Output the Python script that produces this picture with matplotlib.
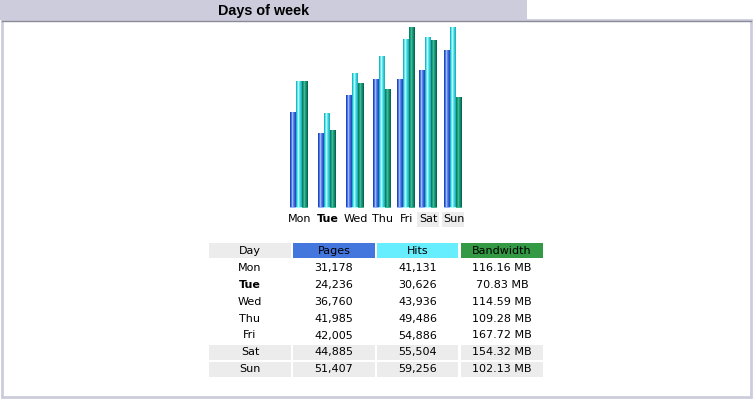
import numpy as np
import matplotlib
matplotlib.use("Agg")
import matplotlib.pyplot as plt
from matplotlib.patches import Rectangle

days = ["Mon", "Tue", "Wed", "Thu", "Fri", "Sat", "Sun"]
pages = [31178, 24236, 36760, 41985, 42005, 44885, 51407]
hits = [41131, 30626, 43936, 49486, 54886, 55504, 59256]
bandwidth_mb = [116.16, 70.83, 114.59, 109.28, 167.72, 154.32, 102.13]
today = "Tue"
weekend = ["Sat", "Sun"]

# layout (pixels)
W, H = 753, 399
col_centers = np.array([299, 327, 355, 382, 406, 428, 453])
bar_w = 6
base_y = 207.5
bar_h = 180.5

grad_p = ["#2447b8", "#4c78e6", "#9ab8ff", "#5b86ee", "#3a62d6", "#2a4cbf"]
grad_h = ["#1fb7c4", "#5fe6ee", "#b4ffff", "#63e8ef", "#36cbd5", "#22b3bf"]
grad_k = ["#0c7f64", "#1fa07f", "#3dbb98", "#1f9d7e", "#0f8667", "#08684f"]

fig = plt.figure(figsize=(W / 100, H / 100), dpi=100)
bg = fig.add_axes([0, 0, 1, 1])
bg.set_xlim(0, W)
bg.set_ylim(H, 0)
bg.axis("off")

# header tab and frame
bg.add_patch(Rectangle((0, 0), 527, 19.5, color="#ccccdd", lw=0))
bg.text(264, 10.5, "Days of week", ha="center", va="center",
        family="Liberation Sans", weight="bold", fontsize=10.4)
bg.add_patch(Rectangle((2, 19.5), 749, 377, fill=False, ec="#ccccdd", lw=2))
bg.plot([2, 751], [20.5, 20.5], color="#8a8a96", lw=1)

# bars
ax = fig.add_axes([0, (H - base_y) / H, 1, bar_h / H])
ax.axis("off")
ymax = max(hits)
bw_scaled = np.array(bandwidth_mb) / max(bandwidth_mb) * ymax
sets = [(pages, grad_p, -bar_w), (hits, grad_h, 0), (bw_scaled, grad_k, bar_w)]
for vals, grad, off in sets:
    bars = ax.bar(col_centers + off, vals, width=bar_w, color=grad[2], lw=0)
    rgb = np.array([matplotlib.colors.to_rgb(c) for c in grad])[None, :, :]
    for b in bars:
        x0 = b.get_x()
        ax.imshow(rgb, extent=[x0, x0 + b.get_width(), 0, b.get_height()],
                  aspect="auto", interpolation="nearest", zorder=3)
ax.set_xlim(0, W)
ax.set_ylim(0, ymax)

# day labels under bars
for d, cx in zip(days, col_centers):
    if d in weekend:
        bg.add_patch(Rectangle((cx - 10.5, 212), 21.5, 14.5, color="#ececec", lw=0))
    bg.text(cx + 0.5, 219, d, ha="center", va="center", fontsize=8,
            weight="bold" if d == today else "normal", color="#000000")

# table
col_x = [209, 293, 377, 461]
col_wd = [82, 82, 81, 82]
head = ["Day", "Pages", "Hits", "Bandwidth"]
head_bg = ["#ececec", "#4477dd", "#66eeff", "#339944"]
row_h = 16.9
top = 243
for x, w, t, c in zip(col_x, col_wd, head, head_bg):
    bg.add_patch(Rectangle((x, top), w, 15, color=c, lw=0))
    bg.text(x + w / 2, top + 8, t, ha="center", va="center", fontsize=8)

for i, d in enumerate(days):
    yc = top + 8 + (i + 1) * row_h
    cells = [d, f"{pages[i]:,}", f"{hits[i]:,}", f"{bandwidth_mb[i]:.2f} MB"]
    for j, (x, w, t) in enumerate(zip(col_x, col_wd, cells)):
        if d in weekend:
            bg.add_patch(Rectangle((x, yc - 7.5), w, 15.5, color="#ececec", lw=0))
        bg.text(x + w / 2, yc, t, ha="center", va="center", fontsize=8,
                weight="bold" if (d == today and j == 0) else "normal")

fig.savefig("out.png", dpi=100)
